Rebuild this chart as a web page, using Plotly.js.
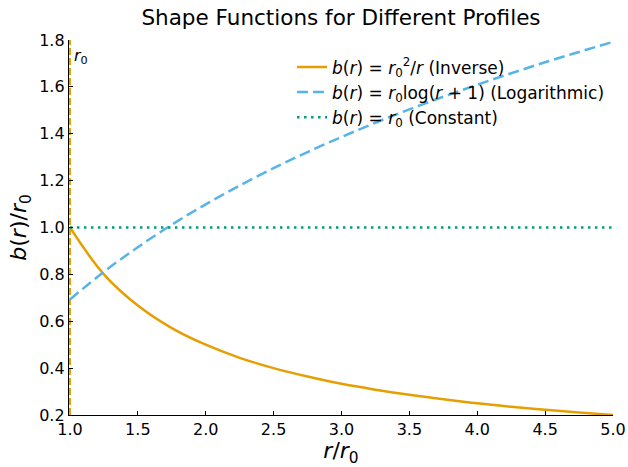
<!DOCTYPE html>
<html>
<head>
<meta charset="utf-8">
<script src="https://cdn.plot.ly/plotly-3.0.1.min.js"></script>
<style>html,body{margin:0;padding:0;background:#fff}#chart{width:628px;height:467px}</style>
</head>
<body>
<div id="chart"></div>
<script>
const rValues = [1.0, 1.25, 1.5, 1.75, 2.0, 2.25, 2.5, 2.75, 3.0, 3.25, 3.5, 3.75, 4.0, 4.25, 4.5, 4.75, 5.0];
const inverseValues = [1.0, 0.8, 0.667, 0.571, 0.5, 0.444, 0.4, 0.364, 0.333, 0.308, 0.286, 0.267, 0.25, 0.235, 0.222, 0.211, 0.2];
const logValues = [0.693, 0.811, 0.916, 1.012, 1.099, 1.179, 1.253, 1.322, 1.386, 1.447, 1.504, 1.558, 1.609, 1.658, 1.705, 1.749, 1.792];
const constantValues = [1.0, 1.0, 1.0, 1.0, 1.0, 1.0, 1.0, 1.0, 1.0, 1.0, 1.0, 1.0, 1.0, 1.0, 1.0, 1.0, 1.0];
const r0Line = {x: [1.0, 1.0], y: [0.2, 1.8]};
const xTicks = [1.0, 1.5, 2.0, 2.5, 3.0, 3.5, 4.0, 4.5, 5.0];
const yTicks = [0.2, 0.4, 0.6, 0.8, 1.0, 1.2, 1.4, 1.6, 1.8];
const seriesNames = [
  '<i>b</i>(<i>r</i>) = <i>r</i><sub>0</sub><sup>2</sup>/<i>r</i> (Inverse)',
  '<i>b</i>(<i>r</i>) = <i>r</i><sub>0</sub>log(<i>r</i> + 1) (Logarithmic)',
  '<i>b</i>(<i>r</i>) = <i>r</i><sub>0</sub> (Constant)'
];

const font = 'DejaVu Sans, sans-serif';
const traces = [
  {x: r0Line.x, y: r0Line.y, mode: 'lines', showlegend: false, hoverinfo: 'skip',
   line: {color: '#E69F00', width: 2, dash: '7px,3px'}},
  {x: rValues, y: inverseValues, mode: 'lines', name: seriesNames[0],
   line: {color: '#E69F00', width: 2.5, shape: 'spline'}},
  {x: rValues, y: logValues, mode: 'lines', name: seriesNames[1],
   line: {color: '#56B4E9', width: 2.5, shape: 'spline', dash: '11px,5px'}},
  {x: rValues, y: constantValues, mode: 'lines', name: seriesNames[2],
   line: {color: '#009E73', width: 2.5, dash: '2.5px,4.5px'}}
];

const layout = {
  width: 628, height: 467,
  margin: {l: 69, r: 15, t: 40, b: 52},
  paper_bgcolor: '#fff', plot_bgcolor: '#fff',
  font: {family: font, color: '#000', size: 16},
  title: {text: 'Shape Functions for Different Profiles', font: {family: font, size: 21.5, color: '#000'},
          x: 0.543, xanchor: 'center', y: 0.962, yanchor: 'middle'},
  xaxis: {range: [0.993, 5], tickvals: xTicks, ticktext: xTicks.map(v => v.toFixed(1)),
          ticks: 'inside', ticklen: 4, tickwidth: 1, tickcolor: '#000',
          showline: true, linecolor: '#000', linewidth: 1.2, mirror: false,
          showgrid: false, zeroline: false, tickfont: {size: 16},
          title: {text: '<i>r</i>/<i>r</i><sub>0</sub>', font: {size: 22}, standoff: 4}},
  yaxis: {range: [0.2, 1.8], tickvals: yTicks, ticktext: yTicks.map(v => v.toFixed(1)),
          ticks: 'inside', ticklen: 4, tickwidth: 1, tickcolor: '#000',
          showline: true, linecolor: '#000', linewidth: 1.2, mirror: false,
          showgrid: false, zeroline: false, tickfont: {size: 16},
          title: {text: '<i>b</i>(<i>r</i>)/<i>r</i><sub>0</sub>', font: {size: 22}, standoff: 6}},
  legend: {x: 0.41, y: 0.975, xanchor: 'left', yanchor: 'top', bgcolor: 'rgba(0,0,0,0)',
           font: {size: 17}, tracegroupgap: 0, itemwidth: 30},
  annotations: [{x: 1.0, y: 1.8, xref: 'x', yref: 'y', text: '<i>r</i><sub>0</sub>', showarrow: false,
                 xanchor: 'left', yanchor: 'top', xshift: 2, yshift: -4, font: {size: 16}}]
};

Plotly.newPlot('chart', traces, layout, {staticPlot: true, displayModeBar: false});
</script>
</body>
</html>
